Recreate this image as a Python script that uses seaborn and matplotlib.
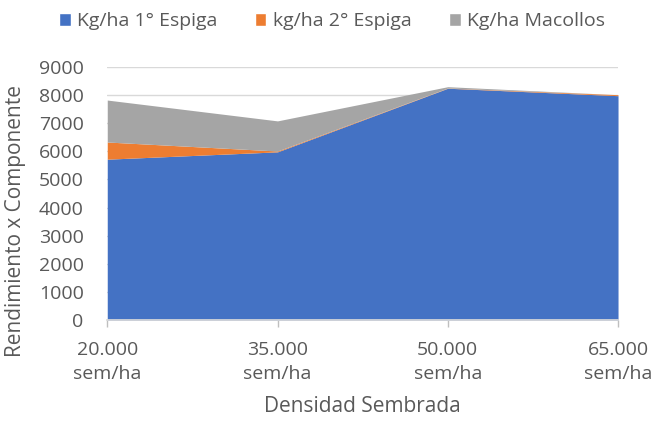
import matplotlib
matplotlib.use('Agg')
import matplotlib.pyplot as plt
import seaborn as sns
from matplotlib.patches import Patch

densidad = ['20.000\nsem/ha', '35.000\nsem/ha', '50.000\nsem/ha', '65.000\nsem/ha']
espiga_1 = [5720, 5980, 8240, 7975]
espiga_2 = [610, 30, 10, 35]
macollos = [1490, 1070, 45, 0]
series = ['Kg/ha 1° Espiga', 'kg/ha 2° Espiga', 'Kg/ha Macollos']
colores = ['#4472C4', '#ED7D31', '#A5A5A5']

sns.set_theme(style='white')
plt.rcParams['font.family'] = ['Open Sans', 'DejaVu Sans']
txt_color = '#595959'
fs = 14

fig = plt.figure(figsize=(6.54, 4.23), dpi=100)
ax = fig.add_axes([0.164, 0.243, 0.781, 0.599])

x = list(range(len(densidad)))
ax.stackplot(x, espiga_1, espiga_2, macollos, colors=colores, zorder=2, linewidth=0)

ax.set_xlim(0, len(densidad) - 1)
ax.set_ylim(0, 9000)
ax.set_yticks(range(0, 9001, 1000))
ax.yaxis.grid(True, color='#D9D9D9', linewidth=1, zorder=0)
ax.set_xticks(x)
ax.set_xticklabels(densidad, fontsize=fs, color=txt_color, linespacing=1.45)
ax.tick_params(axis='y', labelsize=fs, colors=txt_color, length=0, pad=17)
ax.tick_params(axis='x', colors='#BFBFBF', labelcolor=txt_color, length=5, width=1,
               direction='out', bottom=True, pad=10)

for s in ['top', 'right', 'left']:
    ax.spines[s].set_visible(False)
ax.spines['bottom'].set_color('#D9D9D9')

ax.set_xlabel('Densidad Sembrada', fontsize=fs + 1, color=txt_color, labelpad=9)
ax.set_ylabel('Rendimiento x Componente', fontsize=fs + 1, color=txt_color)
ax.yaxis.set_label_coords(-0.16, 0.39)

handles = [Patch(facecolor=c, label=l) for c, l in zip(colores, series)]
fig.legend(handles=handles, loc='upper center', bbox_to_anchor=(0.508, 1.012), ncol=3,
           frameon=False, fontsize=fs, labelcolor=txt_color, handlelength=0.6,
           handleheight=0.6, handletextpad=0.35, columnspacing=1.9)

fig.savefig('out.png', dpi=100)
